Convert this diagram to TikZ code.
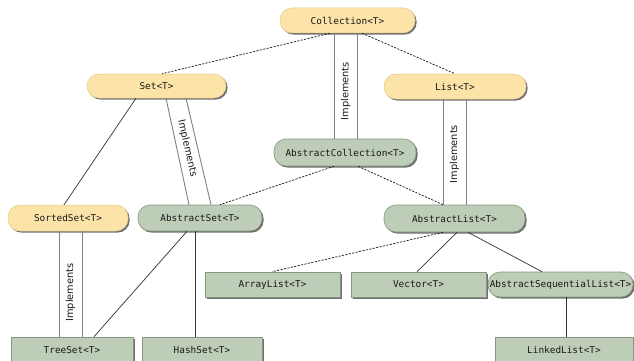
\documentclass[tikz,border=0pt]{standalone}
\usepackage{fontspec}
\newfontfamily\boxfont{DejaVu Sans Mono}
\newfontfamily\lblfont{DejaVu Sans}
\usetikzlibrary{calc,shadows}
\definecolor{ifc}{HTML}{FCE3A8}
\definecolor{ifd}{HTML}{E6CB8C}
\definecolor{clsc}{HTML}{BDCDB7}
\definecolor{clsd}{HTML}{84987F}
\definecolor{shd}{HTML}{555555}
\begin{document}
\begin{tikzpicture}[x=1pt,y=-1pt,
 base/.style={inner sep=0pt, font=\boxfont\fontsize{9.4}{10}\selectfont, text=black!90,
   drop shadow={shadow xshift=1.6pt,shadow yshift=-1.6pt,fill=shd,opacity=0.85}},
 iface/.style={base, rounded corners=12pt, fill=ifc, draw=ifd, line width=0.5pt},
 acls/.style={base, rounded corners=12pt, fill=clsc, draw=clsd, line width=0.6pt},
 cls/.style={base, fill=clsc, draw=clsd, line width=0.6pt},
 ext/.style={draw=black!80, line width=0.7pt},
 impl/.style={draw=black!50, line width=0.9pt},
 dsh/.style={ext, draw=black!90, dash pattern=on 2.2pt off 1.3pt},
 lbl/.style={font=\lblfont\fontsize{9.8}{10}\selectfont, text=black!90, inner sep=0pt}
]
\useasboundingbox (0,0) rectangle (634,361);
\fill[white] (0,0) rectangle (634,361);

% nodes
\node[iface, minimum width=135pt, minimum height=25pt] (coll) at (347.5,20.5) {Collection<T>};
\node[iface, minimum width=139pt, minimum height=24pt] (set) at (156.5,86) {Set<T>};
\node[iface, minimum width=142pt, minimum height=25pt] (list) at (455,86.5) {List<T>};
\node[acls, minimum width=142pt, minimum height=27pt] (acoll) at (345,152.5) {AbstractCollection<T>};
\node[acls, minimum width=141pt, minimum height=27pt] (alist) at (454.5,218.5) {AbstractList<T>};
\node[iface, minimum width=120pt, minimum height=26pt] (sorted) at (68,218) {SortedSet<T>};
\node[acls, minimum width=124pt, minimum height=26pt] (aset) at (200,218) {AbstractSet<T>};
\node[cls, minimum width=135pt, minimum height=25pt] (arr) at (272.5,284.5) {ArrayList<T>};
\node[cls, minimum width=135pt, minimum height=25pt] (vec) at (418.5,284.5) {Vector<T>};
\node[acls, minimum width=145pt, minimum height=25pt] (aseq) at (560.5,284.5) {AbstractSequentialList<T>};
\node[cls, minimum width=122pt, minimum height=26pt] (tree) at (72,350) {TreeSet<T>};
\node[cls, minimum width=120pt, minimum height=26pt] (hash) at (202,350) {HashSet<T>};
\node[cls, minimum width=138pt, minimum height=26pt] (linked) at (564,350) {LinkedList<T>};

% connectors
\draw[dsh] ($(coll.south)+(-17.5,0)$) -- ($(set.north)+(5.5,0)$);
\draw[dsh] ($(coll.south)+(14.5,0)$) -- (list.north);

\draw[impl] ($(coll.south)+(-13.5,0)$) -- ($(acoll.north)+(-11,0)$);
\draw[impl] ($(coll.south)+(9.5,0)$) -- ($(acoll.north)+(12,0)$);
\path ($(acoll.north)+(0.5,0)$) -- node[lbl,sloped,pos=0.45]{Implements} ($(coll.south)+(-1.5,0)$);

\draw[ext] ($(set.south)+(-20.5,0)$) -- ($(sorted.north)+(-4,0)$);

\draw[impl] ($(set.south)+(9.5,0)$) -- ($(aset.north)+(-11,0)$);
\draw[impl] ($(set.south)+(29.5,0)$) -- ($(aset.north)+(11,0)$);
\path ($(set.south)+(19.5,0)$) -- node[lbl,sloped,pos=0.47]{Implements} (aset.north);

\draw[dsh] ($(acoll.south)+(-11,0)$) -- ($(aset.north)+(20,0)$);
\draw[dsh] ($(acoll.south)+(13,0)$) -- ($(alist.north)+(-11.5,0)$);

\draw[impl] ($(list.south)+(-12,0)$) -- ($(alist.north)+(-11.5,0)$);
\draw[impl] ($(list.south)+(11,0)$) -- ($(alist.north)+(11.5,0)$);
\path (alist.north) -- node[lbl,sloped,pos=0.48]{Implements} ($(list.south)+(-0.5,0)$);

\draw[dsh] ($(alist.south)+(-11.5,0)$) -- ($(arr.north)+(-0.5,0)$);
\draw[ext] ($(alist.south)+(2.5,0)$) -- ($(vec.north)+(-1.5,0)$);
\draw[ext] ($(alist.south)+(13.5,0)$) -- ($(aseq.north)+(-18.5,0)$);
\draw[ext] ($(aseq.south)+(5.5,0)$) -- ($(linked.north)+(2,0)$);

\draw[impl] ($(sorted.south)+(-9,0)$) -- ($(tree.north)+(-13,0)$);
\draw[impl] ($(sorted.south)+(14,0)$) -- ($(tree.north)+(10,0)$);
\path ($(tree.north)+(-1.5,0)$) -- node[lbl,sloped,pos=0.42]{Implements} ($(sorted.south)+(2.5,0)$);

\draw[ext] ($(aset.south)+(-13,0)$) -- ($(tree.north)+(22,0)$);
\draw[ext] ($(aset.south)+(-5,0)$) -- ($(hash.north)+(-7,0)$);
\end{tikzpicture}
\end{document}
